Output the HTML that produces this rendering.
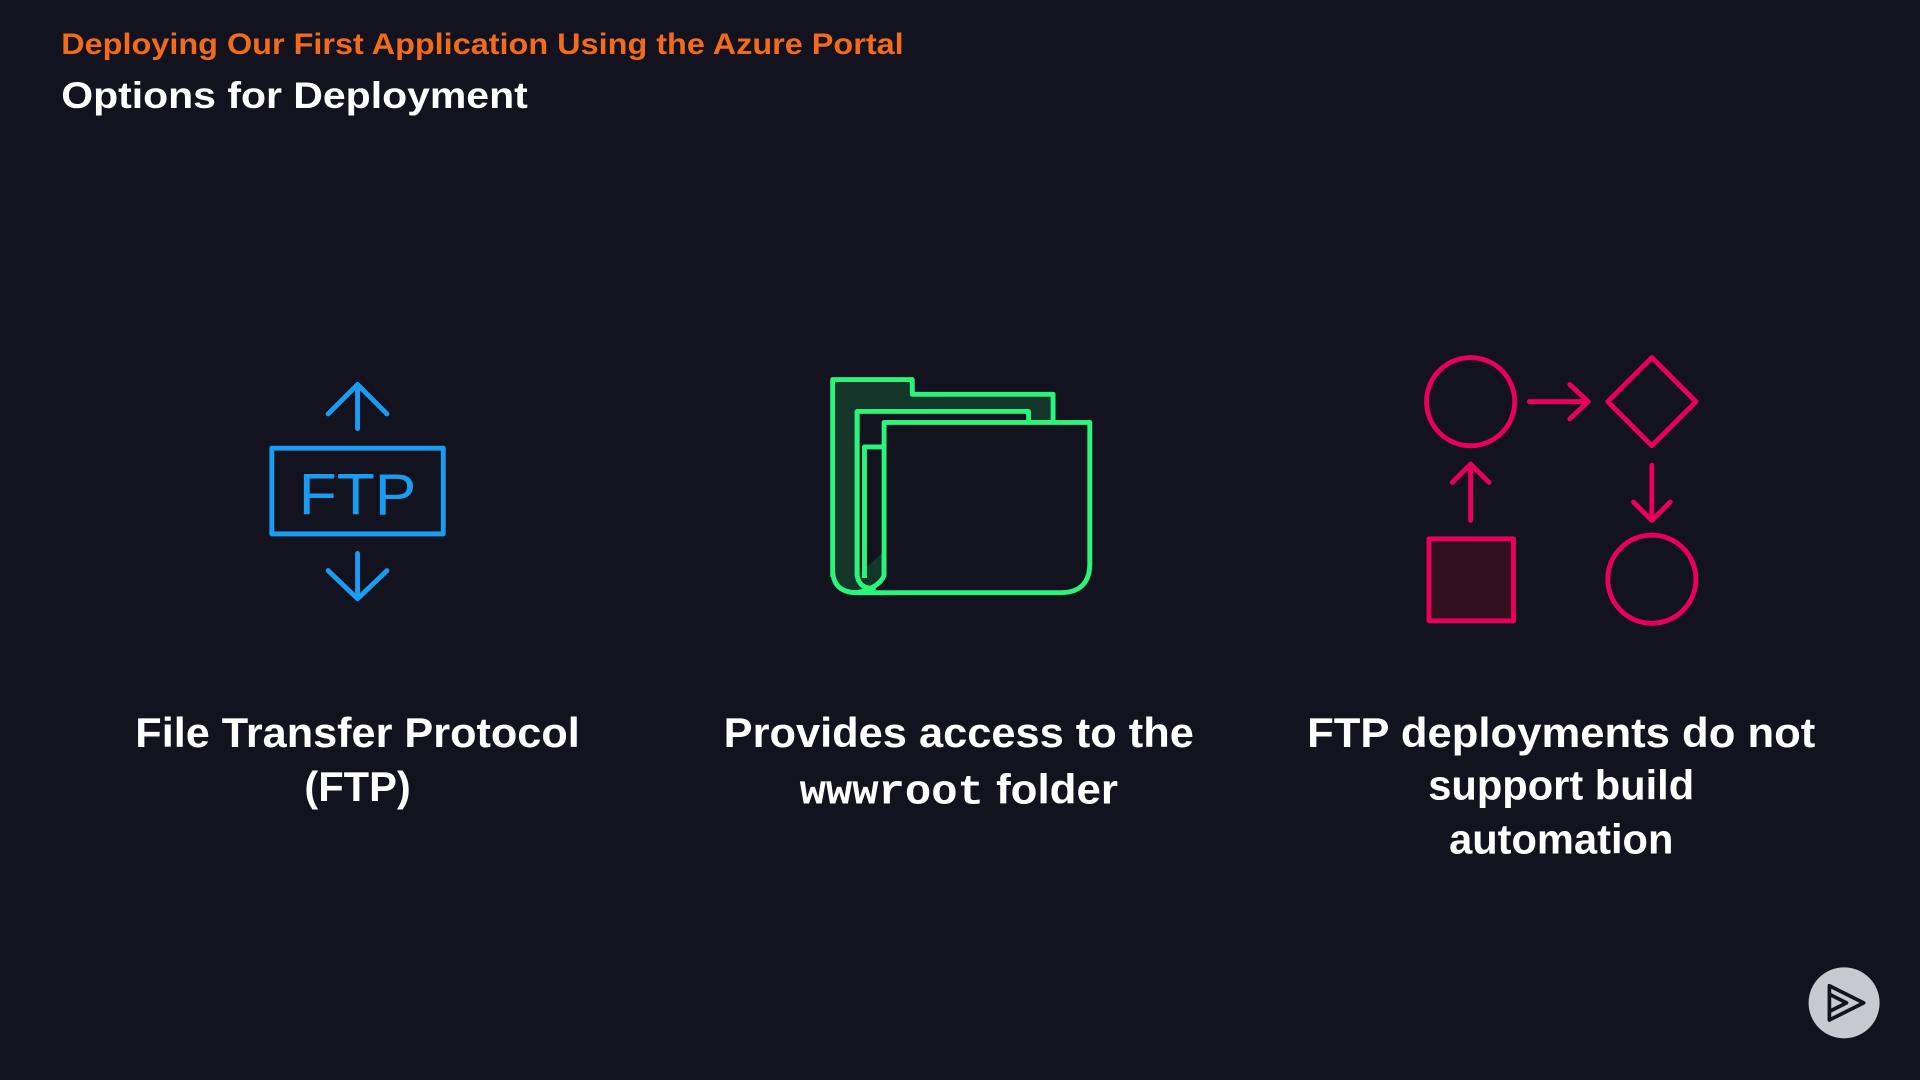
<!DOCTYPE html>
<html><head><meta charset="utf-8"><style>
html,body{margin:0;padding:0;background:#13121f;width:1920px;height:1080px;overflow:hidden}
svg{display:block}
text{font-family:"Liberation Sans",sans-serif;font-weight:bold}
</style></head><body>
<svg width="1920" height="1080" viewBox="0 0 1568 882" xmlns="http://www.w3.org/2000/svg">
<rect width="1568" height="882" fill="#13121f"/>
<text x="50" y="44" font-size="24" fill="#f26b1d" textLength="688" lengthAdjust="spacingAndGlyphs">Deploying Our First Application Using the Azure Portal</text>
<text x="50" y="88" font-size="30" fill="#ffffff" textLength="381" lengthAdjust="spacingAndGlyphs">Options for Deployment</text>

<!-- FTP icon -->
<g stroke="#1a9cf0" stroke-width="4" fill="none" stroke-linecap="round" stroke-linejoin="round">
<rect x="222" y="366" width="140" height="70"/>
<line x1="292" y1="350" x2="292" y2="315"/>
<polyline points="268,338 292,314 316,338"/>
<line x1="292" y1="452" x2="292" y2="488"/>
<polyline points="268,466 292,489 316,466"/>
</g>
<text x="292" y="420" font-size="48" fill="#1a9cf0" text-anchor="middle" style="font-weight:normal" textLength="96" lengthAdjust="spacingAndGlyphs">FTP</text>

<!-- Folder icon -->
<g stroke="#2af57a" stroke-width="4" stroke-linejoin="round" fill="none">
<path d="M680,470 V310 H745 V322 H860 V345 H722 V484 H700 Q680,484 680,465 Z" fill="#14352a"/>
<path d="M700,470 V336 H840 V345" fill="#13121f"/>
<path d="M706,472 V365 H722" />
<path d="M722,345 H890 V460 Q890,484 866,484 H700 Q718,480 722,470 Z" fill="#13121f"/>
<path d="M700,336 V470 Q702,482 715,480" />
</g>

<!-- Pink flow icon -->
<g stroke="#e8005a" stroke-width="4" fill="none" stroke-linecap="round" stroke-linejoin="round">
<circle cx="1201" cy="328" r="36"/>
<line x1="1249" y1="328" x2="1297" y2="328"/>
<polyline points="1282,314 1297,328 1282,342"/>
<polygon points="1349,292 1385,328 1349,364 1313,328"/>
<line x1="1349" y1="380" x2="1349" y2="424"/>
<polyline points="1334,410 1349,425 1364,410"/>
<circle cx="1349" cy="473" r="36"/>
<rect x="1167" y="440" width="69" height="67" fill="#33101f"/>
<line x1="1201" y1="425" x2="1201" y2="380"/>
<polyline points="1186,394 1201,379 1216,394"/>
</g>

<!-- Labels -->
<g font-size="34" fill="#ffffff" text-anchor="middle">
<text x="292" y="610" textLength="363" lengthAdjust="spacingAndGlyphs">File Transfer Protocol</text>
<text x="292" y="654">(FTP)</text>
<text x="783" y="610" textLength="384" lengthAdjust="spacingAndGlyphs">Provides access to the</text>
<text x="783" y="656" textLength="260" lengthAdjust="spacingAndGlyphs"><tspan font-family="Liberation Mono, monospace" font-weight="bold">wwwroot</tspan> folder</text>
<text x="1275" y="610" textLength="415" lengthAdjust="spacingAndGlyphs">FTP deployments do not</text>
<text x="1275" y="653">support build</text>
<text x="1275" y="697">automation</text>
</g>

<!-- play button -->
<circle cx="1506" cy="819" r="29" fill="#c9c9d1"/>
<g stroke="#13121f" stroke-width="3" fill="none" stroke-linejoin="round">
<polygon points="1494,805 1522,819 1494,833"/>
<polyline points="1494,812 1508,819 1494,826"/>
</g>
</svg>
</body></html>
